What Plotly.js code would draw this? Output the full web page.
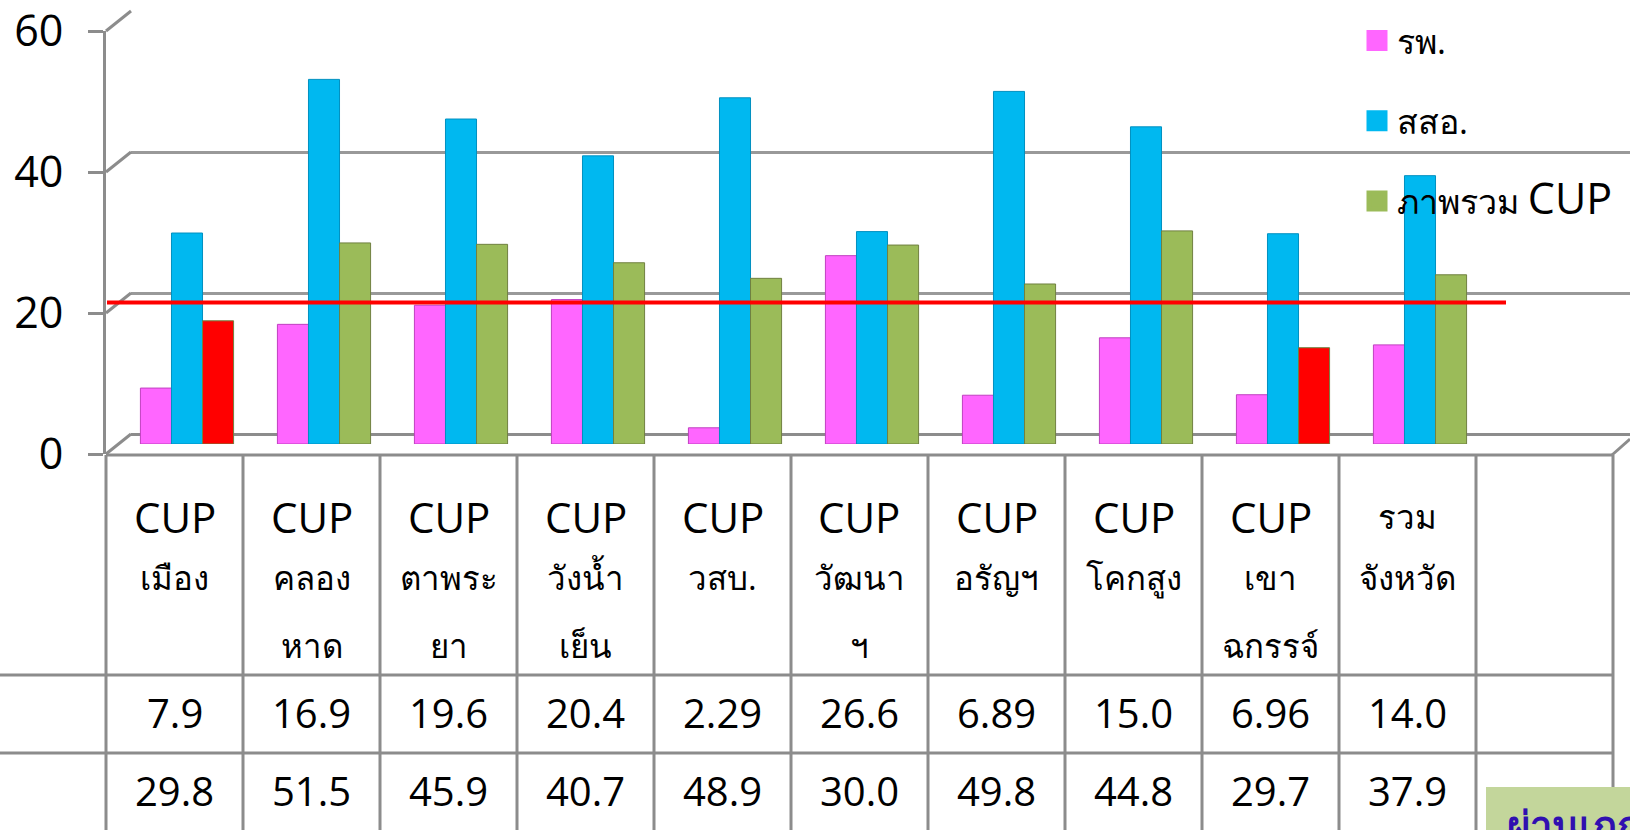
<!DOCTYPE html>
<html>
<head>
<meta charset="utf-8">
<script src="https://cdn.plot.ly/plotly-3.0.1.min.js"></script>
<style>html,body{margin:0;padding:0;background:#fff;}#chart{width:1630px;height:830px;}</style>
</head>
<body>
<div id="chart"></div>
<script>
// ---------- data ----------
const categories = ['CUP<br>เมือง', 'CUP<br>คลอง<br>หาด', 'CUP<br>ตาพระ<br>ยา', 'CUP<br>วังน้ำ<br>เย็น', 'CUP<br>วสบ.',
                    'CUP<br>วัฒนา<br>ฯ', 'CUP<br>อรัญฯ', 'CUP<br>โคกสูง', 'CUP<br>เขา<br>ฉกรรจ์', 'รวม<br>จังหวัด'];
const seriesNames = ['รพ.', 'สสอ.', 'ภาพรวม CUP'];
const hospital = [7.9, 16.9, 19.6, 20.4, 2.29, 26.6, 6.89, 15.0, 6.96, 14.0];
const healthOffice = [29.8, 51.5, 45.9, 40.7, 48.9, 30.0, 49.8, 44.8, 29.7, 37.9];
const overallCup = [17.4, 28.4, 28.2, 25.6, 23.4, 28.1, 22.6, 30.1, 13.6, 23.9];
const hospitalLabels = ['7.9', '16.9', '19.6', '20.4', '2.29', '26.6', '6.89', '15.0', '6.96', '14.0'];
const healthOfficeLabels = ['29.8', '51.5', '45.9', '40.7', '48.9', '30.0', '49.8', '44.8', '29.7', '37.9'];
const yTicks = [0, 20, 40, 60];
const target = 20;
const noteText = 'ผ่านเกณฑ์';

// ---------- styling ----------
const W = 1630, H = 830;
const px = x => x / W;
const py = y => 1 - y / H;
const GREY = '#8c8c8c';
const LATIN = 'Open Sans, Liberation Sans, sans-serif';
const PINK = '#ff66ff', BLUE = '#00b8f0', GREEN = '#9bbb59', RED = '#ff0000';

const cupColors = overallCup.map(v => v < target ? RED : GREEN);

const traces = [
  {type: 'scatter', x: [], y: [], xaxis: 'x', yaxis: 'y', showlegend: false, hoverinfo: 'skip'},
  {type: 'bar', name: seriesNames[0], x: categories, y: hospital, xaxis: 'x2', yaxis: 'y2',
   marker: {color: PINK, line: {color: '#c040c0', width: 1}}, showlegend: false},
  {type: 'bar', name: seriesNames[1], x: categories, y: healthOffice, xaxis: 'x2', yaxis: 'y2',
   marker: {color: BLUE, line: {color: '#0090c0', width: 1}}, showlegend: false},
  {type: 'bar', name: seriesNames[2], x: categories, y: overallCup, xaxis: 'x2', yaxis: 'y2',
   marker: {color: cupColors, line: {color: '#708040', width: 1}}, showlegend: false},
  {type: 'scatter', x: [], y: [], xaxis: 'x3', yaxis: 'y3', showlegend: false, hoverinfo: 'skip'}
];
// legend entries
const legendColors = [PINK, BLUE, GREEN];
const legendText = seriesNames.map(n => n.replace('CUP', '<span style="font-size:43px">CUP</span>'));
legendText.forEach((t, i) => {
  traces.push({type: 'scatter', mode: 'markers', x: [null], y: [null], xaxis: 'x2', yaxis: 'y2',
    name: t, legendgroup: 'g' + i, showlegend: true,
    marker: {symbol: 'square', size: 16, color: legendColors[i], line: {color: legendColors[i], width: 5}}});
});

const shapes = [];
const annotations = [];
const line = (x0, y0, x1, y1, color, width) => shapes.push({type: 'line', xref: 'paper', yref: 'paper',
  x0: px(x0), y0: py(y0), x1: px(x1), y1: py(y1), line: {color: color || GREY, width: width || 3}, layer: 'above'});

// 3D wall diagonals (front axis -> back wall)
const frontY = v => 454 - v * (454 - 31) / 60;
const backY = v => 434 - v * (434 - 11) / 60;
yTicks.forEach(v => line(106, frontY(v), 131, backY(v)));
// floor right edge
line(1612, 455, 1630, 439);

// table grid
const colW = 137, tableLeft = 106, nCols = categories.length + 1;
const tableRight = tableLeft + colW * nCols;
line(tableLeft, 455, tableRight, 455);
line(0, 675, tableRight, 675);
line(0, 753, tableRight, 753);
for (let k = 0; k <= nCols; k++) line(tableLeft + colW * k, 455, tableLeft + colW * k, 830);

// target line
shapes.push({type: 'line', xref: 'paper', yref: 'y2', x0: px(107), x1: px(1506), y0: target, y1: target,
  line: {color: RED, width: 4}, layer: 'above'});

// note box (partly off-page)
shapes.push({type: 'rect', xref: 'paper', yref: 'paper', x0: px(1486), x1: px(1640), y0: py(787), y1: py(850),
  fillcolor: '#c3d69b', line: {width: 0}, layer: 'above'});
annotations.push({xref: 'paper', yref: 'paper', x: px(1505), y: py(795), xanchor: 'left', yanchor: 'top',
  text: '<b>' + noteText + '</b>', showarrow: false, font: {size: 40, color: '#3010b0', family: LATIN}});

// table text
const headerLineY = [516, 577, 645];
categories.forEach((c, i) => {
  const cx = px(tableLeft + colW * (i + 0.5));
  c.split('<br>').forEach((part, j) => {
    annotations.push({xref: 'paper', yref: 'paper', x: cx, y: py(headerLineY[j]), xanchor: 'center', yanchor: 'middle',
      text: part, showarrow: false, font: {size: part === 'CUP' ? 42 : 33, color: '#000', family: LATIN}});
  });
  annotations.push({xref: 'paper', yref: 'paper', x: cx, y: py(712), xanchor: 'center', yanchor: 'middle',
    text: hospitalLabels[i], showarrow: false, font: {size: 40, color: '#000', family: LATIN}});
  annotations.push({xref: 'paper', yref: 'paper', x: cx, y: py(790), xanchor: 'center', yanchor: 'middle',
    text: healthOfficeLabels[i], showarrow: false, font: {size: 40, color: '#000', family: LATIN}});
});

const layout = {
  width: W, height: H, margin: {l: 0, r: 0, t: 0, b: 0},
  paper_bgcolor: '#fff', plot_bgcolor: 'rgba(0,0,0,0)',
  font: {family: LATIN, color: '#000'},
  barmode: 'group', bargap: 0.32, bargroupgap: 0,
  xaxis: {domain: [px(131), 1], range: [0, 1], showgrid: false, zeroline: false, showticklabels: false,
    showline: false, ticks: '', fixedrange: true},
  yaxis: {domain: [py(434), py(11)], range: [0, 60], tickvals: yTicks, showgrid: true, gridcolor: '#999999',
    gridwidth: 3, zeroline: true, zerolinecolor: GREY, zerolinewidth: 3, showticklabels: false, ticks: '',
    fixedrange: true},
  xaxis2: {domain: [px(118.5), px(1625.5)], range: [-0.5, 10.5], anchor: 'y2', visible: false, fixedrange: true},
  yaxis2: {domain: [py(444), py(19.2)], range: [0, 60], anchor: 'x2', visible: false, fixedrange: true},
  xaxis3: {domain: [px(106), 1], range: [0, 1], anchor: 'y3', visible: false, fixedrange: true},
  yaxis3: {domain: [py(454), py(31)], range: [0, 60], anchor: 'x3', tickvals: yTicks, showline: true,
    linecolor: GREY, linewidth: 3, ticks: 'outside', ticklen: 15, tickwidth: 3, tickcolor: GREY,
    showgrid: false, zeroline: false, tickfont: {size: 43, color: '#000', family: LATIN},
    ticklabelstandoff: 16, ticklabeloverflow: 'allow', fixedrange: true},
  legend: {x: px(1357), y: py(12), xanchor: 'left', yanchor: 'top', bgcolor: 'rgba(0,0,0,0)',
    font: {size: 34, color: '#000', family: LATIN}, tracegroupgap: 33, itemsizing: 'trace'},
  shapes: shapes,
  annotations: annotations
};

Plotly.newPlot('chart', traces, layout, {displayModeBar: false, staticPlot: true});
</script>
</body>
</html>
